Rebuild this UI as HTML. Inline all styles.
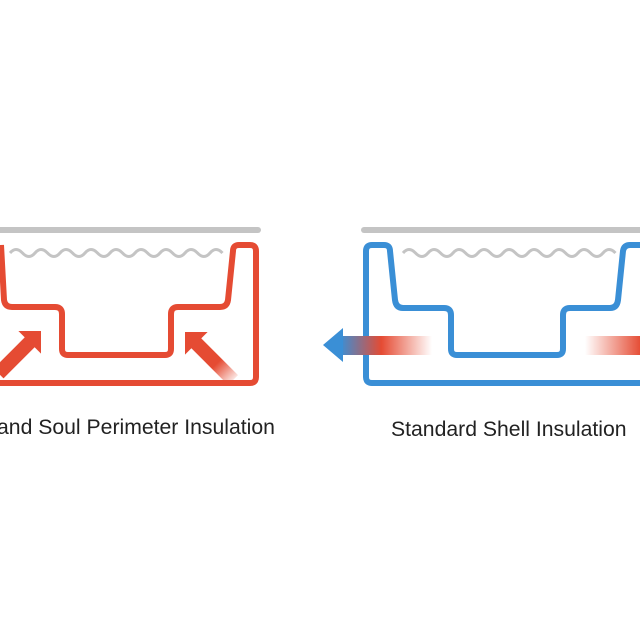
<!DOCTYPE html>
<html><head><style>
body{margin:0;background:#fff;width:640px;height:640px;overflow:hidden}
svg{position:absolute;left:0;top:0}
.t{position:absolute;font-family:"Liberation Sans",sans-serif;font-size:21.2px;color:#222;white-space:nowrap}
</style></head><body>
<svg width="640" height="640" viewBox="0 0 640 640">
<defs>
<linearGradient id="fr" x1="0" y1="0" x2="1" y2="0">
<stop offset="0" stop-color="#e54b33" stop-opacity="0"/><stop offset="1" stop-color="#e54b33"/></linearGradient>
<linearGradient id="fl" x1="0" y1="0" x2="1" y2="0">
<stop offset="0" stop-color="#3a8fd6"/><stop offset="0.45" stop-color="#e54b33"/><stop offset="1" stop-color="#e54b33" stop-opacity="0"/></linearGradient>
<linearGradient id="ar" x1="0" y1="0" x2="1" y2="0">
<stop offset="0" stop-color="#e54b33"/><stop offset="0.6" stop-color="#e54b33"/><stop offset="1" stop-color="#e54b33" stop-opacity="0.15"/></linearGradient>
</defs>
<line x1="0" y1="230" x2="258" y2="230" stroke="#c4c4c4" stroke-width="6" stroke-linecap="round"/>
<line x1="364" y1="230" x2="640" y2="230" stroke="#c4c4c4" stroke-width="6" stroke-linecap="round"/>
<path d="M10 253 q6 -7 12.5 0 t12.5 0 t12.5 0 t12.5 0 t12.5 0 t12.5 0 t12.5 0 t12.5 0 t12.5 0 t12.5 0 t12.5 0 t12.5 0 t12.5 0 t12.5 0 t12.5 0 t12.5 0 t12.5 0" fill="none" stroke="#c4c4c4" stroke-width="3"/>
<path d="M403 253 q6 -7 12.5 0 t12.5 0 t12.5 0 t12.5 0 t12.5 0 t12.5 0 t12.5 0 t12.5 0 t12.5 0 t12.5 0 t12.5 0 t12.5 0 t12.5 0 t12.5 0 t12.5 0 t12.5 0 t12.5 0" fill="none" stroke="#c4c4c4" stroke-width="3"/>
<path d="M-10 383 H250 Q256 383 256 377 V251 Q256 245 250 245 H239 Q233 245 233 251 L228 300 Q227 307 220 307 H178 Q171 307 171 314 V349 Q171 355 165 355 H68 Q62 355 62 349 V314 Q62 307 55 307 H12 Q5 307 4 300 L1 245" fill="none" stroke="#e54b33" stroke-width="6"/>
<path d="M650 383 H372 Q366 383 366 377 V251 Q366 245 372 245 H384 Q390 245 390 251 L395 300 Q396 308 403 308 H444 Q451 308 451 315 V349 Q451 355 457 355 H557 Q563 355 563 349 V315 Q563 308 570 308 H610 Q617 308 618 300 L623 251 Q624 245 630 245 H650" fill="none" stroke="#3a8fd6" stroke-width="6"/>
<g transform="translate(41,331) rotate(135)">
<rect x="10" y="-7" width="50" height="14" fill="#e54b33"/>
<polygon points="0,0 16,-16 16,16" fill="#e54b33"/>
</g>
<g transform="translate(185,332) rotate(45)">
<rect x="10" y="-7" width="58" height="14" fill="url(#ar)"/>
<polygon points="0,0 16,-16 16,16" fill="#e54b33"/>
</g>
<rect x="340" y="336" width="92" height="19" fill="url(#fl)"/>
<polygon points="323,345 343,328 343,362" fill="#3a8fd6"/>
<rect x="585" y="336" width="56" height="19" fill="url(#fr)"/>
</svg>
<div class="t" style="left:-3px;top:416px">and Soul Perimeter Insulation</div>
<div class="t" style="left:391px;top:418px">Standard Shell Insulation</div>
</body></html>
